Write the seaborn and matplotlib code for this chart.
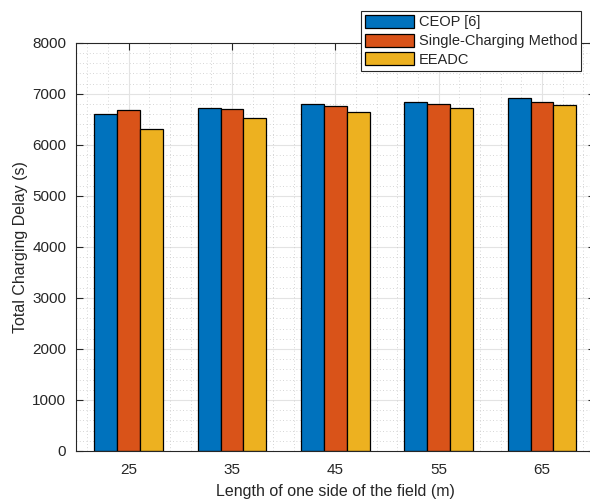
import matplotlib
matplotlib.use("Agg")
import matplotlib.pyplot as plt
from matplotlib.ticker import MultipleLocator
import seaborn as sns
import pandas as pd

categories = ["25", "35", "45", "55", "65"]
ceop = [6595, 6720, 6790, 6835, 6915]
single = [6675, 6705, 6750, 6795, 6845]
eeadc = [6305, 6530, 6640, 6720, 6785]
series_names = ["CEOP [6]", "Single-Charging Method", "EEADC"]
colors = ["#0072BD", "#D95319", "#EDB120"]

df = pd.DataFrame({
    "field": categories * 3,
    "delay": ceop + single + eeadc,
    "method": [series_names[0]] * 5 + [series_names[1]] * 5 + [series_names[2]] * 5,
})

sns.set_theme(style="white")
plt.rcParams["font.family"] = ["Liberation Sans", "DejaVu Sans"]

fig = plt.figure(figsize=(5.9, 5.0), dpi=100)
ax = fig.add_axes([76 / 590, 49 / 500, 518.7 / 590, 408.3 / 500])

sns.barplot(data=df, x="field", y="delay", hue="method", palette=colors,
            width=0.665, edgecolor="black", linewidth=0.9, saturation=1,
            ax=ax, zorder=2, legend=True)

ax.set_xlim(-0.51, 4.51)
ax.set_ylim(0, 8000)
ax.yaxis.set_major_locator(MultipleLocator(1000))
ax.yaxis.set_minor_locator(MultipleLocator(200))
ax.xaxis.set_minor_locator(MultipleLocator(0.2))

# grid drawn behind the bars
ax.grid(False)
for y in range(1000, 8000, 1000):
    ax.axhline(y, color="#e3e3e3", lw=0.8, zorder=0)
for y in range(200, 8000, 200):
    if y % 1000:
        ax.axhline(y, color="#c8c8c8", lw=0.6, ls=(0, (1, 3)), zorder=0)
for i in range(len(categories)):
    ax.axvline(i, color="#e3e3e3", lw=0.8, zorder=0)
k = -0.4
while k < 4.5:
    if abs(k - round(k)) > 1e-6:
        ax.axvline(k, color="#c8c8c8", lw=0.6, ls=(0, (1, 3)), zorder=0)
    k += 0.2

ax.tick_params(axis="both", which="major", direction="in", length=5, width=0.8,
               color="#262626", labelsize=11, labelcolor="#262626",
               top=True, right=True, bottom=True, left=True)
ax.tick_params(axis="x", which="major", pad=9)
ax.tick_params(axis="y", which="major", pad=7)
ax.tick_params(axis="both", which="minor", length=0)
for s in ax.spines.values():
    s.set_color("#262626")
    s.set_linewidth(0.8)

ax.set_xlabel("Length of one side of the field (m)", fontsize=11.5, color="#262626", labelpad=5)
ax.set_ylabel("Total Charging Delay (s)", fontsize=11.5, color="#262626", labelpad=3)

leg = ax.legend(loc="upper right", bbox_to_anchor=(581 / 590, 1 - 11 / 500),
                bbox_transform=fig.transFigure, fontsize=10.5, frameon=True,
                fancybox=False, edgecolor="#262626", framealpha=1,
                handlelength=3.4, handleheight=1.0, labelspacing=0.3,
                handletextpad=0.3, borderpad=0.25, borderaxespad=0)
leg.get_frame().set_linewidth(0.8)
leg.set_zorder(10)

fig.savefig("out.png", dpi=100)
